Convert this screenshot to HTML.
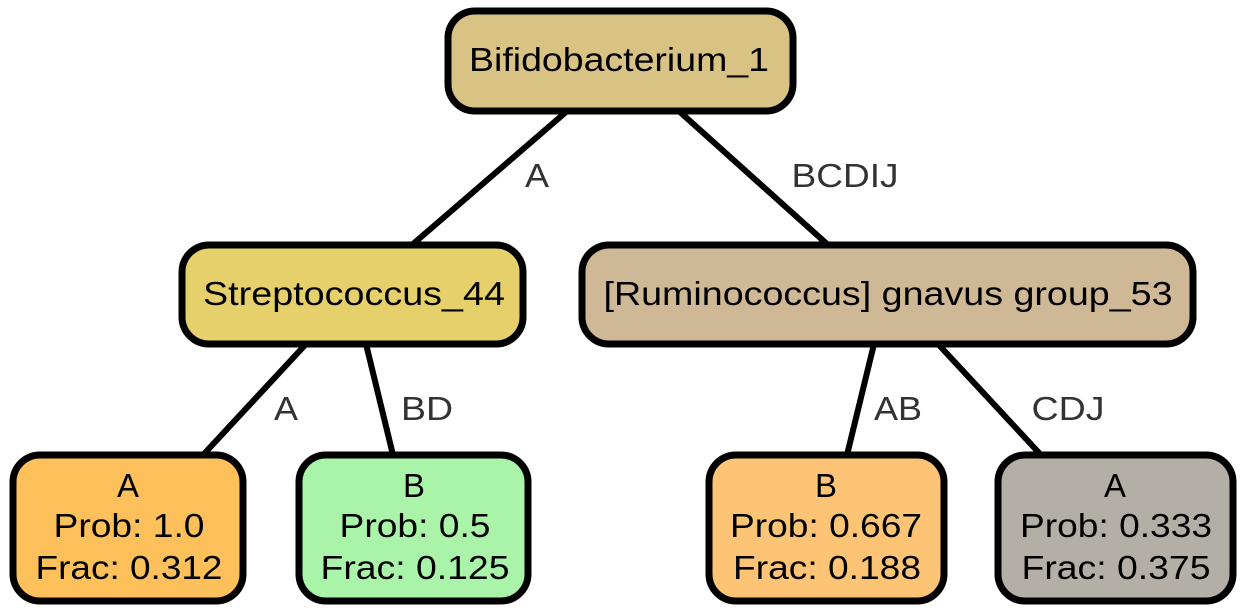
<!DOCTYPE html>
<html><head><meta charset="utf-8"><style>
html,body{margin:0;padding:0;background:#fff;}
svg{display:block;}
text{font-family:"Liberation Sans",Arial,sans-serif;font-size:33px;}
</style></head><body>
<svg width="1246" height="613" viewBox="0 0 1246 613">
<g stroke="#000" stroke-width="6">
<line x1="566" y1="112" x2="413" y2="244"/>
<line x1="680" y1="112" x2="827" y2="244"/>
<line x1="306" y1="344" x2="203" y2="455"/>
<line x1="366" y1="344" x2="393" y2="455"/>
<line x1="874" y1="344" x2="847" y2="455"/>
<line x1="938" y1="344" x2="1041" y2="455"/>
</g>
<g fill="#333" text-anchor="middle">
<text x="537" y="187" textLength="24" lengthAdjust="spacingAndGlyphs">A</text>
<text x="845" y="187" textLength="107" lengthAdjust="spacingAndGlyphs">BCDIJ</text>
<text x="286" y="420" textLength="24" lengthAdjust="spacingAndGlyphs">A</text>
<text x="427" y="420" textLength="52" lengthAdjust="spacingAndGlyphs">BD</text>
<text x="898" y="420" textLength="48" lengthAdjust="spacingAndGlyphs">AB</text>
<text x="1068" y="420" textLength="73" lengthAdjust="spacingAndGlyphs">CDJ</text>
</g>
<g stroke="#000" stroke-width="7">
<rect x="448" y="11" width="345" height="100" rx="27" fill="#d9c384"/>
<rect x="182" y="245" width="341" height="99" rx="27" fill="#e5d06b"/>
<rect x="582" y="245" width="611" height="99" rx="27" fill="#cfb896"/>
<rect x="13" y="455" width="230" height="146" rx="27" fill="#fdc05a"/>
<rect x="299" y="455" width="229" height="146" rx="27" fill="#a9f4a9"/>
<rect x="709" y="455" width="235" height="146" rx="27" fill="#fcc474"/>
<rect x="998" y="455" width="235" height="146" rx="27" fill="#b3afa6"/>
</g>
<g fill="#000" text-anchor="middle">
<text x="619" y="71" textLength="300" lengthAdjust="spacingAndGlyphs">Bifidobacterium_1</text>
<text x="354" y="305" textLength="302" lengthAdjust="spacingAndGlyphs">Streptococcus_44</text>
<text x="888" y="305" textLength="569" lengthAdjust="spacingAndGlyphs">[Ruminococcus] gnavus group_53</text>
<text x="128" y="497" textLength="22" lengthAdjust="spacingAndGlyphs">A</text>
<text x="129" y="537" textLength="151" lengthAdjust="spacingAndGlyphs">Prob: 1.0</text>
<text x="129" y="579" textLength="187" lengthAdjust="spacingAndGlyphs">Frac: 0.312</text>
<text x="414" y="497" textLength="22" lengthAdjust="spacingAndGlyphs">B</text>
<text x="415" y="537" textLength="151" lengthAdjust="spacingAndGlyphs">Prob: 0.5</text>
<text x="415" y="579" textLength="189" lengthAdjust="spacingAndGlyphs">Frac: 0.125</text>
<text x="826" y="497" textLength="22" lengthAdjust="spacingAndGlyphs">B</text>
<text x="826" y="537" textLength="192" lengthAdjust="spacingAndGlyphs">Prob: 0.667</text>
<text x="827" y="579" textLength="188" lengthAdjust="spacingAndGlyphs">Frac: 0.188</text>
<text x="1115" y="497" textLength="22" lengthAdjust="spacingAndGlyphs">A</text>
<text x="1116" y="537" textLength="192" lengthAdjust="spacingAndGlyphs">Prob: 0.333</text>
<text x="1116" y="579" textLength="189" lengthAdjust="spacingAndGlyphs">Frac: 0.375</text>
</g>
</svg>
</body></html>
